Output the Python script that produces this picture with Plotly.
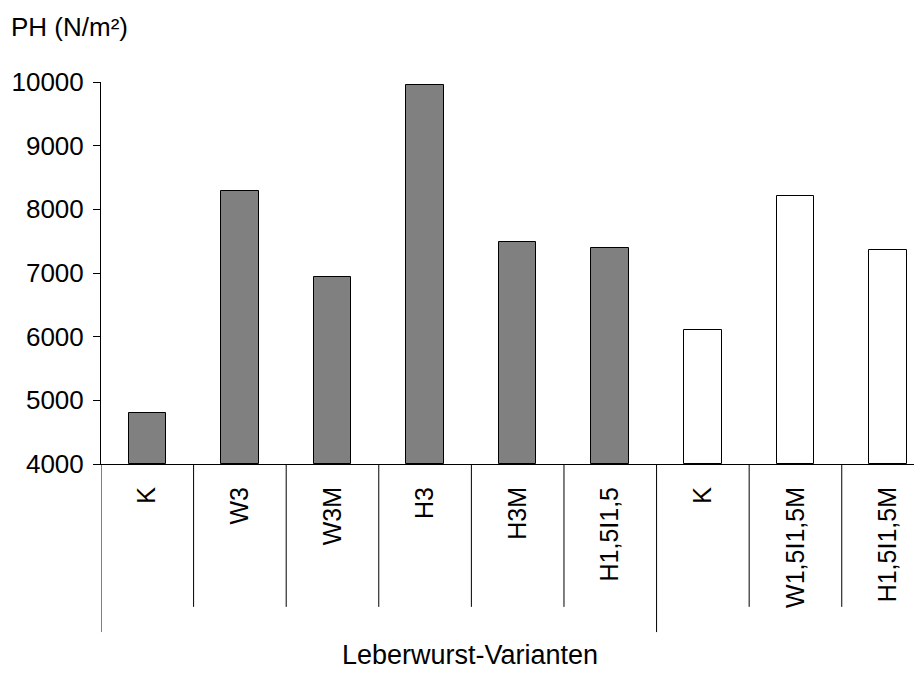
import plotly.graph_objects as go

categories = ["K", "W3", "W3M", "H3", "H3M", "H1,5I1,5", "K", "W1,5I1,5M", "H1,5I1,5M"]
values = [4800, 8290, 6940, 9960, 7480, 7390, 6100, 8210, 7360]
groups = [1, 1, 1, 1, 1, 1, 2, 2, 2]
group_colors = {1: "#808080", 2: "#ffffff"}
y_ticks = [4000, 5000, 6000, 7000, 8000, 9000, 10000]
y_ticktext = ["4000", "5000", "6000", "7000", "8000", "9000", "10000"]
y_title = "PH (N/m²)"
x_title = "Leberwurst-Varianten"

FONT = "Arial, 'Liberation Sans', sans-serif"
FS = 26

idx = list(range(len(categories)))
fig = go.Figure()
fig.add_trace(go.Bar(
    x=idx, y=[v - 4000 for v in values], base=4000,
    width=0.406,
    marker=dict(color=[group_colors[g] for g in groups],
                line=dict(color="black", width=1)),
    hoverinfo="skip",
))

# separators between categories and group boundaries
shapes = []
for i in range(1, len(categories)):
    boundary = groups[i] != groups[i - 1]
    shapes.append(dict(type="line", xref="x", yref="paper",
                       x0=i - 0.5, x1=i - 0.5, y0=0,
                       y1=-0.44 if boundary else -0.374,
                       line=dict(color="black", width=1)))
shapes.append(dict(type="line", xref="x", yref="paper", x0=-0.5, x1=-0.5,
                   y0=0, y1=-0.44, line=dict(color="black", width=1)))

fig.update_layout(
    width=922, height=673,
    margin=dict(l=93, r=0, t=74, b=217, autoexpand=False),
    paper_bgcolor="white", plot_bgcolor="white",
    showlegend=False,
    font=dict(family=FONT, size=FS, color="black"),
    shapes=shapes,
    bargap=0,
    annotations=[
        dict(text=y_title, xref="paper", yref="paper", x=-0.1106, y=1.145,
             xanchor="left", yanchor="middle", showarrow=False,
             font=dict(family=FONT, size=FS, color="black")),
        dict(text=x_title, xref="paper", yref="paper", x=0.445, y=-0.500,
             xanchor="center", yanchor="middle", showarrow=False,
             font=dict(family=FONT, size=27, color="black")),
    ],
)
fig.update_xaxes(
    tickmode="array", tickvals=idx, ticktext=categories,
    tickangle=-90, ticks="", showgrid=False, zeroline=False,
    showline=True, linecolor="black", linewidth=1,
    range=[-0.5, 8.453], ticklabelstandoff=12,
    tickfont=dict(family=FONT, size=25, color="black"),
)
fig.update_yaxes(
    range=[4000, 10000], tickmode="array", tickvals=y_ticks, ticktext=y_ticktext,
    ticks="outside", ticklen=7,
    tickcolor="black", tickwidth=1, showgrid=False, zeroline=False,
    showline=True, linecolor="black", linewidth=1,
    ticklabelstandoff=4,
    tickfont=dict(family=FONT, size=FS, color="black"),
)
fig.write_html("out.html")
